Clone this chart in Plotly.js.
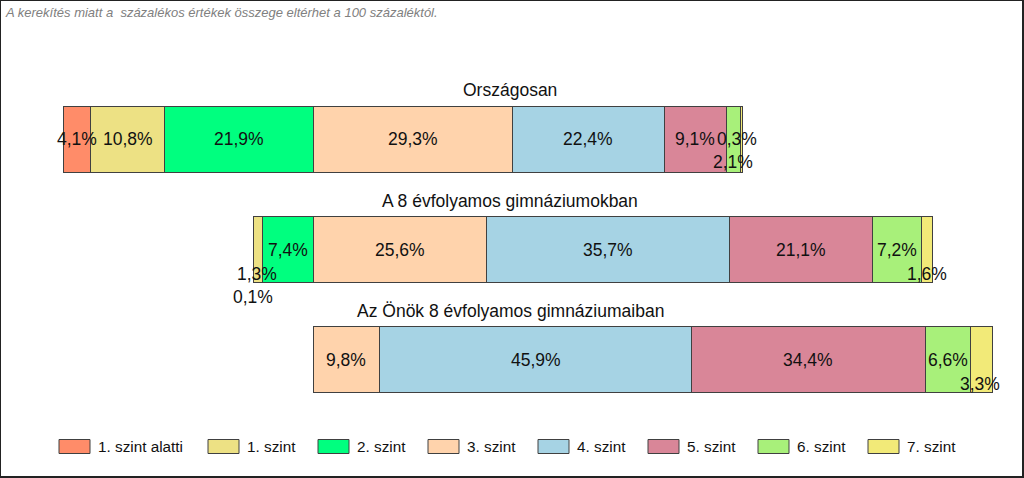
<!DOCTYPE html>
<html>
<head>
<meta charset="utf-8">
<script src="https://cdn.plot.ly/plotly-3.0.1.min.js"></script>
<style>
  html, body { margin: 0; padding: 0; background: #fff; }
  #wrap {
    width: 1024px; height: 478px; box-sizing: border-box;
    border-left: 1px solid #222; border-top: 1px solid #222;
    border-right: 2px solid #222; border-bottom: 2px solid #222;
    overflow: hidden;
  }
  #chart { width: 1021px; height: 475px; }
</style>
</head>
<body>
<div id="wrap"><div id="chart"></div></div>
<script>
/* ---- Data ---- */
var rowNames = ['Országosan', 'A 8 évfolyamos gimnáziumokban', 'Az Önök 8 évfolyamos gimnáziumaiban'];
var rowOffsets = [0, 28.0, 36.8];   // invisible lead-in of each stacked bar (%)

var levelNames = ['1. szint alatti', '1. szint', '2. szint', '3. szint',
                  '4. szint', '5. szint', '6. szint', '7. szint'];
var levelColors = ['#FF8C69', '#EDE184', '#00FF7F', '#FFD3AC',
                   '#A6D3E4', '#D98698', '#A8F07A', '#F2EA78'];

var valuesOrszagos = [4.1, 10.8, 21.9, 29.3, 22.4, 9.1, 2.1, 0.3];
var valuesGimn8    = [0.1, 1.3, 7.4, 25.6, 35.7, 21.1, 7.2, 1.6];
var valuesOnok     = [0, 0, 0, 9.8, 45.9, 34.4, 6.6, 3.3];

var noteText = 'A kerekítés miatt a \u00a0százalékos értékek összege eltérhet a 100 százaléktól.';

/* ---- Styling helpers ---- */
var FONT = '"Liberation Sans", Arial, sans-serif';
var M = { l: 62, r: 20, t: 83, b: 61 };
var PX_PER_PCT = 6.794;
var plotW = 1021 - M.l - M.r;

// small segments get their label pushed aside (pixels), like the original
var labelNudge = {
  '0-6': { dx: 0, dy: -23 },
  '0-7': { dx: -4, dy: 0 },
  '1-0': { dx: -1, dy: -47 },
  '1-1': { dx: -1, dy: -24 },
  '1-7': { dx: 0, dy: -24 },
  '2-7': { dx: -1, dy: -24 }
};

function fmtPct(v) {
  return v.toFixed(1).replace('.', ',') + '%';
}

// legend swatch left edge, pixels from the plot's left edge
function legendLeft(k) {
  return k === 0 ? -4 : 145 + 110 * (k - 1);
}

/* ---- Build traces ---- */
var rows = [valuesOrszagos, valuesGimn8, valuesOnok];

var traces = [{
  type: 'bar', orientation: 'h',
  x: rowOffsets, y: rowNames,
  marker: { color: 'rgba(0,0,0,0)', line: { width: 0 } },
  showlegend: false, hoverinfo: 'skip'
}];

levelNames.forEach(function(name, k) {
  traces.push({
    type: 'bar', orientation: 'h', name: name,
    x: rows.map(function(r) { return r[k]; }),
    y: rowNames,
    marker: { color: levelColors[k], line: { color: '#404040', width: 1 } },
    showlegend: false,
    hovertemplate: '%{y}<br>' + name + ': %{x:.1f}%<extra></extra>'
  });
});

/* ---- Annotations: value labels, row titles, note, legend ---- */
var annotations = [];
var shapes = [];

rows.forEach(function(r, i) {
  var cum = rowOffsets[i];
  r.forEach(function(v, k) {
    if (v > 0) {
      var n = labelNudge[i + '-' + k] || { dx: 0, dy: 0 };
      annotations.push({
        x: cum + v / 2, y: rowNames[i], xref: 'x', yref: 'y',
        text: fmtPct(v), showarrow: false,
        xshift: n.dx, yshift: n.dy,
        font: { family: FONT, size: 17.5, color: '#111' }
      });
    }
    cum += v;
  });
  annotations.push({
    x: (509 - M.l) / plotW, xref: 'paper',
    y: rowNames[i], yref: 'y', yshift: 49,
    text: rowNames[i], showarrow: false,
    font: { family: FONT, size: 17.5, color: '#111' }
  });
});

annotations.push({
  x: 0, xref: 'paper', xanchor: 'left', xshift: -60,
  y: 1, yref: 'paper', yanchor: 'middle', yshift: 72,
  text: noteText, showarrow: false,
  font: { family: FONT, size: 13, color: '#808080', style: 'italic' }
});

levelNames.forEach(function(name, k) {
  var left = legendLeft(k);
  shapes.push({
    type: 'rect', xref: 'paper', yref: 'paper',
    xsizemode: 'pixel', ysizemode: 'pixel', xanchor: 0, yanchor: 0,
    x0: left, x1: left + 31, y0: -38.5, y1: -24.5,
    fillcolor: levelColors[k], line: { color: '#404040', width: 1 }
  });
  annotations.push({
    x: 0, xref: 'paper', xanchor: 'left', xshift: left + 37,
    y: 0, yref: 'paper', yanchor: 'middle', yshift: -31.5,
    text: name, showarrow: false,
    font: { family: FONT, size: 15.3, color: '#111' }
  });
});

/* ---- Render ---- */
Plotly.newPlot('chart', traces, {
  width: 1021, height: 475,
  margin: M,
  barmode: 'stack',
  bargap: 0.40,
  paper_bgcolor: '#fff', plot_bgcolor: '#fff',
  showlegend: false,
  xaxis: { range: [0, plotW / PX_PER_PCT], visible: false, fixedrange: true },
  yaxis: { range: [2.5, -0.5], visible: false, fixedrange: true },
  annotations: annotations,
  shapes: shapes,
  hovermode: 'closest'
}, { displayModeBar: false, responsive: false });
</script>
</body>
</html>
